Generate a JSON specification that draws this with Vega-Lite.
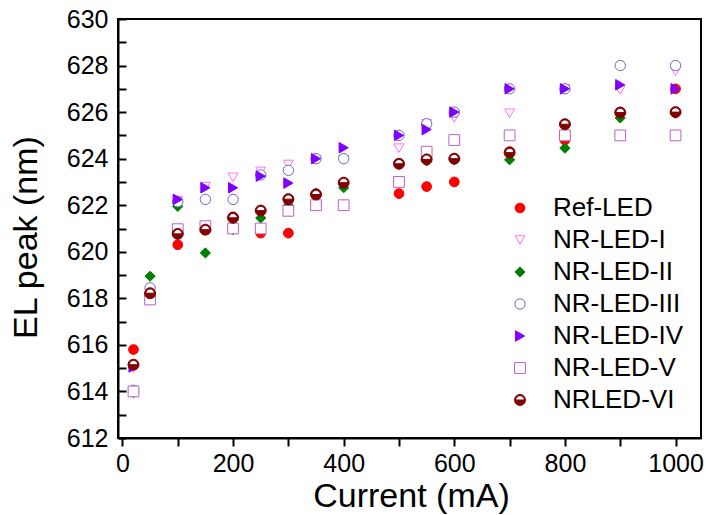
{
  "$schema": "https://vega.github.io/schema/vega-lite/v6.json",
  "width": 583,
  "height": 419,
  "autosize": "none",
  "padding": {"left": 118, "top": 19, "right": 5, "bottom": 77},
  "background": "white",
  "config": {
    "font": "Liberation Sans",
    "view": {"stroke": "black", "strokeWidth": 2},
    "axis": {"grid": false, "domainColor": "black", "domainWidth": 2, "ticks": true, "tickColor": "black", "tickWidth": 2, "labelColor": "black", "titleColor": "black", "labelFont": "Liberation Sans", "titleFont": "Liberation Sans", "titleFontWeight": "normal", "zindex": 1}
  },
  "data": {"values": [
    {"s":"Ref-LED","x":20,"y":615.8},{"s":"Ref-LED","x":50,"y":618.2},{"s":"Ref-LED","x":100,"y":620.3},{"s":"Ref-LED","x":150,"y":621.0},{"s":"Ref-LED","x":200,"y":621.5},{"s":"Ref-LED","x":250,"y":620.8},{"s":"Ref-LED","x":300,"y":620.8},{"s":"Ref-LED","x":350,"y":622.5},{"s":"Ref-LED","x":400,"y":622.0},{"s":"Ref-LED","x":500,"y":622.5},{"s":"Ref-LED","x":550,"y":622.8},{"s":"Ref-LED","x":600,"y":623.0},{"s":"Ref-LED","x":700,"y":624.3},{"s":"Ref-LED","x":800,"y":624.8},{"s":"Ref-LED","x":900,"y":626.0},{"s":"Ref-LED","x":1000,"y":627.0},
    {"s":"NR-LED-I","x":20,"y":615.0},{"s":"NR-LED-I","x":50,"y":617.9},{"s":"NR-LED-I","x":100,"y":622.2},{"s":"NR-LED-I","x":150,"y":622.8},{"s":"NR-LED-I","x":200,"y":623.2},{"s":"NR-LED-I","x":250,"y":623.45},{"s":"NR-LED-I","x":300,"y":623.75},{"s":"NR-LED-I","x":350,"y":623.95},{"s":"NR-LED-I","x":400,"y":623.95},{"s":"NR-LED-I","x":500,"y":624.45},{"s":"NR-LED-I","x":550,"y":625.5},{"s":"NR-LED-I","x":600,"y":625.75},{"s":"NR-LED-I","x":700,"y":625.95},{"s":"NR-LED-I","x":800,"y":627.0},{"s":"NR-LED-I","x":900,"y":626.95},{"s":"NR-LED-I","x":1000,"y":627.75},
    {"s":"NR-LED-II","x":20,"y":613.95},{"s":"NR-LED-II","x":50,"y":618.95},{"s":"NR-LED-II","x":100,"y":621.95},{"s":"NR-LED-II","x":150,"y":619.95},{"s":"NR-LED-II","x":200,"y":620.95},{"s":"NR-LED-II","x":250,"y":621.45},{"s":"NR-LED-II","x":300,"y":622.0},{"s":"NR-LED-II","x":350,"y":622.0},{"s":"NR-LED-II","x":400,"y":622.75},{"s":"NR-LED-II","x":500,"y":623.0},{"s":"NR-LED-II","x":550,"y":623.9},{"s":"NR-LED-II","x":600,"y":623.95},{"s":"NR-LED-II","x":700,"y":623.95},{"s":"NR-LED-II","x":800,"y":624.45},{"s":"NR-LED-II","x":900,"y":625.75},{"s":"NR-LED-II","x":1000,"y":625.95},
    {"s":"NR-LED-III","x":20,"y":614.05},{"s":"NR-LED-III","x":50,"y":618.45},{"s":"NR-LED-III","x":100,"y":622.15},{"s":"NR-LED-III","x":150,"y":622.25},{"s":"NR-LED-III","x":200,"y":622.25},{"s":"NR-LED-III","x":250,"y":623.3},{"s":"NR-LED-III","x":300,"y":623.5},{"s":"NR-LED-III","x":350,"y":624.0},{"s":"NR-LED-III","x":400,"y":624.0},{"s":"NR-LED-III","x":500,"y":625.0},{"s":"NR-LED-III","x":550,"y":625.5},{"s":"NR-LED-III","x":600,"y":626.0},{"s":"NR-LED-III","x":700,"y":627.0},{"s":"NR-LED-III","x":800,"y":627.0},{"s":"NR-LED-III","x":900,"y":628.0},{"s":"NR-LED-III","x":1000,"y":628.0},
    {"s":"NR-LED-IV","x":20,"y":615.05},{"s":"NR-LED-IV","x":50,"y":618.1},{"s":"NR-LED-IV","x":100,"y":622.25},{"s":"NR-LED-IV","x":150,"y":622.75},{"s":"NR-LED-IV","x":200,"y":622.75},{"s":"NR-LED-IV","x":250,"y":623.25},{"s":"NR-LED-IV","x":300,"y":622.95},{"s":"NR-LED-IV","x":350,"y":624.0},{"s":"NR-LED-IV","x":400,"y":624.47},{"s":"NR-LED-IV","x":500,"y":625.0},{"s":"NR-LED-IV","x":550,"y":625.25},{"s":"NR-LED-IV","x":600,"y":626.0},{"s":"NR-LED-IV","x":700,"y":627.0},{"s":"NR-LED-IV","x":800,"y":627.0},{"s":"NR-LED-IV","x":900,"y":627.17},{"s":"NR-LED-IV","x":1000,"y":627.0},
    {"s":"NR-LED-V","x":20,"y":614.0},{"s":"NR-LED-V","x":50,"y":617.95},{"s":"NR-LED-V","x":100,"y":620.97},{"s":"NR-LED-V","x":150,"y":621.1},{"s":"NR-LED-V","x":200,"y":621.0},{"s":"NR-LED-V","x":250,"y":621.0},{"s":"NR-LED-V","x":300,"y":621.76},{"s":"NR-LED-V","x":350,"y":622.0},{"s":"NR-LED-V","x":400,"y":622.0},{"s":"NR-LED-V","x":500,"y":623.0},{"s":"NR-LED-V","x":550,"y":624.3},{"s":"NR-LED-V","x":600,"y":624.8},{"s":"NR-LED-V","x":700,"y":625.0},{"s":"NR-LED-V","x":800,"y":625.0},{"s":"NR-LED-V","x":900,"y":625.0},{"s":"NR-LED-V","x":1000,"y":625.0},
    {"s":"NRLED-VI","x":20,"y":615.15},{"s":"NRLED-VI","x":50,"y":618.22},{"s":"NRLED-VI","x":100,"y":620.77},{"s":"NRLED-VI","x":150,"y":620.95},{"s":"NRLED-VI","x":200,"y":621.46},{"s":"NRLED-VI","x":250,"y":621.77},{"s":"NRLED-VI","x":300,"y":622.26},{"s":"NRLED-VI","x":350,"y":622.46},{"s":"NRLED-VI","x":400,"y":622.97},{"s":"NRLED-VI","x":500,"y":623.78},{"s":"NRLED-VI","x":550,"y":623.97},{"s":"NRLED-VI","x":600,"y":624.0},{"s":"NRLED-VI","x":700,"y":624.26},{"s":"NRLED-VI","x":800,"y":625.48},{"s":"NRLED-VI","x":900,"y":625.98},{"s":"NRLED-VI","x":1000,"y":626.0}
  ]},
  "encoding": {
    "x": {"field": "x", "type": "quantitative", "scale": {"domain": [-8, 1046], "nice": false, "zero": false},
      "axis": {"values": [0,100,200,300,400,500,600,700,800,900,1000],
        "labelExpr": "datum.value % 200 === 0 ? datum.label : ''",
        "tickSize": 8,
        "labelPadding": 5, "labelFontSize": 25, "format": "d",
        "title": "Current (mA)", "titleFontSize": 34, "titleBaseline": "alphabetic", "titleX": 293, "titleY": 68}},
    "y": {"field": "y", "type": "quantitative", "scale": {"domain": [612, 630], "nice": false, "zero": false},
      "axis": {"values": [612,613,614,615,616,617,618,619,620,621,622,623,624,625,626,627,628,629,630],
        "labelExpr": "datum.value % 2 === 0 ? datum.label : ''",
        "tickSize": -8,
        "labelPadding": 18, "labelFontSize": 25, "format": "d",
        "title": "EL peak (nm)", "titleFontSize": 34, "titleBaseline": "alphabetic", "titleAngle": -90, "titleX": -82, "titleY": 218}}
  },
  "layer": [
    {
      "transform": [{"filter": "datum.s !== 'NRLED-VI'"}],
      "mark": {"type": "point", "strokeWidth": 1, "opacity": 1},
      "encoding": {
        "shape": {"field": "s", "type": "nominal", "scale": {"domain": ["Ref-LED","NR-LED-I","NR-LED-II","NR-LED-III","NR-LED-IV","NR-LED-V","NRLED-VI"], "range": ["circle","triangle-down","diamond","circle","triangle-right","square","M-1,0A1,1,0,0,1,1,0L0.78,0A0.78,0.78,0,0,0,-0.78,0ZM-1,0A1,1,0,0,0,1,0Z"]}, "legend": {"title": null, "orient": "none", "legendX": 389, "legendY": 176, "padding": 0, "labelFontSize": 26, "labelFont": "Liberation Sans", "labelColor": "black", "labelOffset": 20, "rowPadding": 6, "symbolStrokeWidth": 1}},
        "fill": {"field": "s", "type": "nominal", "scale": {"domain": ["Ref-LED","NR-LED-I","NR-LED-II","NR-LED-III","NR-LED-IV","NR-LED-V","NRLED-VI"], "range": ["#ff0000","#ffffff","#008000","#ffffff","#8000ff","#ffffff","#800000"]}, "legend": {"title": null}},
        "stroke": {"field": "s", "type": "nominal", "scale": {"domain": ["Ref-LED","NR-LED-I","NR-LED-II","NR-LED-III","NR-LED-IV","NR-LED-V","NRLED-VI"], "range": ["#ff0000","#ff70ff","#008000","#6868c8","#8000ff","#bb5fc6","#800000"]}, "legend": {"title": null}},
        "size": {"field": "s", "type": "nominal", "scale": {"domain": ["Ref-LED","NR-LED-I","NR-LED-II","NR-LED-III","NR-LED-IV","NR-LED-V","NRLED-VI"], "range": [95,120,140,85,120,60,95]}, "legend": {"title": null}}
      }
    },
    {
      "transform": [{"filter": "datum.s === 'NRLED-VI'"}],
      "mark": {"type": "point", "shape": "circle", "filled": true, "fill": "#ffffff", "stroke": null, "size": 95, "opacity": 1},
      "encoding": {}
    },
    {
      "transform": [{"filter": "datum.s === 'NRLED-VI'"}],
      "mark": {"type": "point", "strokeWidth": 1, "opacity": 1},
      "encoding": {
        "shape": {"field": "s", "type": "nominal"},
        "fill": {"field": "s", "type": "nominal"},
        "stroke": {"field": "s", "type": "nominal"},
        "size": {"field": "s", "type": "nominal"}
      }
    }
  ]
}
